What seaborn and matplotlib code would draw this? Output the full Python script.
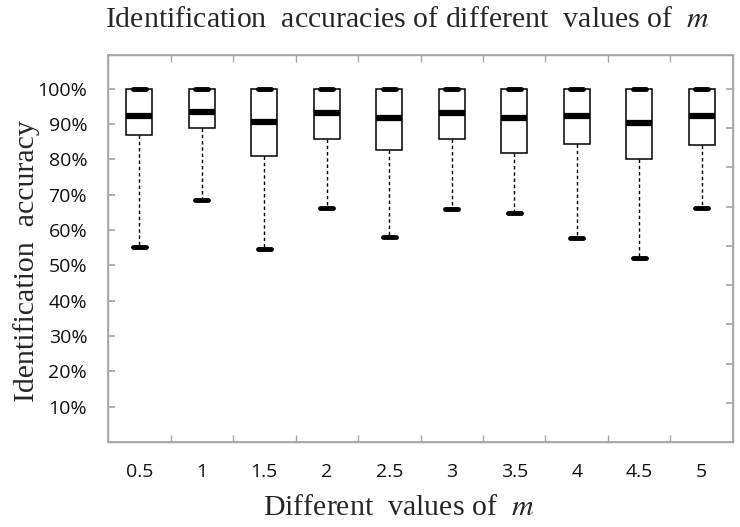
import numpy as np
import pandas as pd
import matplotlib
matplotlib.use("Agg")
import matplotlib.pyplot as plt
import seaborn as sns
from matplotlib.ticker import FuncFormatter, FixedLocator

sns.set_theme(style="white")
plt.rcParams["mathtext.fontset"] = "stix"

m_values = ["0.5", "1", "1.5", "2", "2.5", "3", "3.5", "4", "4.5", "5"]
acc_min = [0.553, 0.686, 0.547, 0.663, 0.581, 0.660, 0.649, 0.578, 0.521, 0.663]
acc_q1 = [0.868, 0.888, 0.809, 0.857, 0.826, 0.857, 0.819, 0.843, 0.802, 0.841]
acc_median = [0.922, 0.934, 0.907, 0.931, 0.917, 0.931, 0.918, 0.922, 0.902, 0.922]
acc_q3 = [1.0, 1.0, 1.0, 1.0, 1.0, 1.0, 1.0, 1.0, 1.0, 1.0]
acc_max = [1.0, 1.0, 1.0, 1.0, 1.0, 1.0, 1.0, 1.0, 1.0, 1.0]

# five points per group -> quartiles land exactly on q1/median/q3
rows = []
for i, m in enumerate(m_values):
    for v in (acc_min[i], acc_q1[i], acc_median[i], acc_q3[i], acc_max[i]):
        rows.append({"m": m, "accuracy": v})
df = pd.DataFrame(rows)

fig = plt.figure(figsize=(7.4, 5.27), dpi=100)
ax = fig.add_axes([0.146, 0.1613, 0.8445, 0.7344])

sns.boxplot(data=df, x="m", y="accuracy", order=m_values, ax=ax,
            whis=(0, 100), width=0.42, color="white", linecolor="black",
            linewidth=1.1, showfliers=False,
            medianprops={"linewidth": 4.5, "solid_capstyle": "butt"},
            capprops={"linewidth": 3.5, "solid_capstyle": "round"},
            whiskerprops={"linestyle": (0, (2.5, 2)), "linewidth": 1.0})

ymax = 1.096
ax.set_ylim(0, ymax)
ax.set_xlim(-0.5, len(m_values) - 0.5)
ax.set_yticks(np.arange(0.1, 1.01, 0.1))
ax.yaxis.set_major_formatter(FuncFormatter(lambda v, p: f"{v * 100:.0f}%"))

gray = "#a6a6a6"
for s in ax.spines.values():
    s.set_visible(True)
    s.set_color(gray)
    s.set_linewidth(1.0)

bounds = np.arange(0.5, len(m_values) - 0.5, 1.0)
ax.xaxis.set_minor_locator(FixedLocator(bounds))
ax.tick_params(axis="x", which="major", length=0, pad=15)
ax.tick_params(axis="x", which="minor", direction="in", length=5,
               color=gray, top=True, bottom=True)
ax.tick_params(axis="y", which="major", direction="in", length=5,
               color=gray, left=True, pad=15)

for lab in ax.get_xticklabels() + ax.get_yticklabels():
    lab.set_fontfamily("Open Sans")
    lab.set_fontsize(14)
    lab.set_color("#111111")

ax.set_xlabel("")
ax.set_ylabel("")

# right-hand axis with its own tick spacing
ax2 = ax.twinx()
ax2.set_ylim(0, 9 * ymax)
ax2.set_yticks(np.arange(1, 10))
ax2.set_yticklabels([])
ax2.tick_params(axis="y", direction="in", length=5, color=gray, right=True)
for s in ax2.spines.values():
    s.set_color(gray)

serif = "Liberation Serif"
fig.text(0.551, 0.949, r"Identification  accuracies of different  values of  $m$",
         ha="center", va="baseline", fontsize=21.5, family=serif)
fig.text(0.538, 0.022, r"Different  values of  $m$",
         ha="center", va="baseline", fontsize=21.5, family=serif)
fig.text(0.036, 0.505, "Identification  accuracy", rotation=90,
         ha="center", va="center", fontsize=21.5, family=serif)

fig.savefig("out.png", dpi=100)
